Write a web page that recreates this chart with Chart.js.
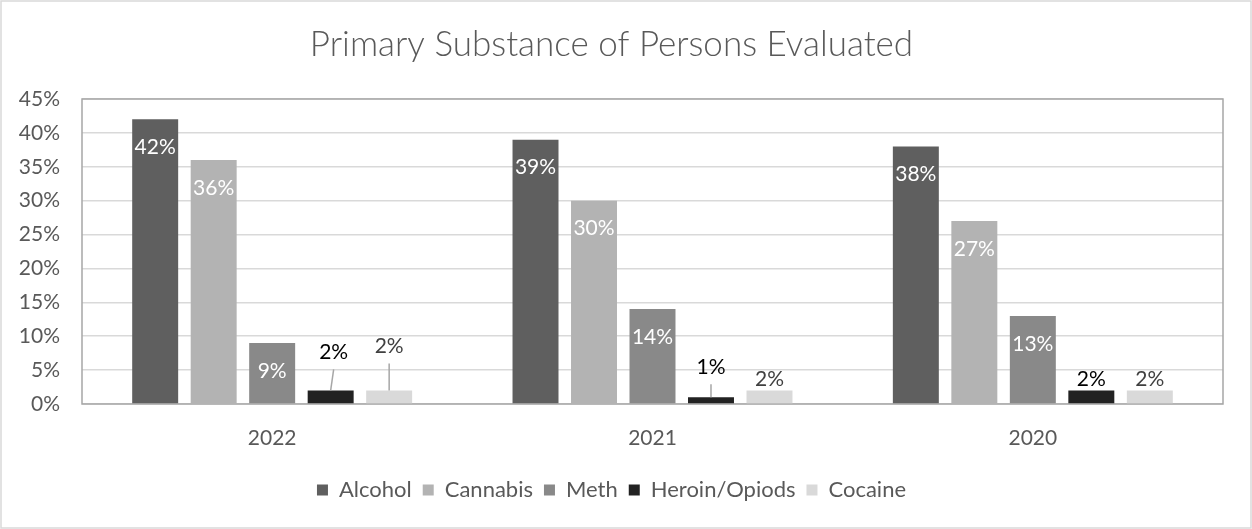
<!DOCTYPE html>
<html>
<head>
<meta charset="utf-8">
<script src="https://cdn.jsdelivr.net/npm/chart.js@4/dist/chart.umd.min.js"></script>
<style>
  html, body { margin: 0; padding: 0; background: #ffffff; }
  #wrap { width: 1252px; height: 529px; position: relative; }
</style>
</head>
<body>
<div id="wrap"><canvas id="chart" width="1252" height="529"></canvas></div>
<script>
// Years evaluated
const years = ['2022', '2021', '2020'];

// Share of persons evaluated by primary substance (percent)
const alcohol  = [42, 39, 38];
const cannabis = [36, 30, 27];
const meth     = [9, 14, 13];
const heroin   = [2, 1, 2];
const cocaine  = [2, 2, 2];

const seriesNames = ['Alcohol', 'Cannabis', 'Meth', 'Heroin/Opiods', 'Cocaine'];
const seriesColors = ['#5f5f5f', '#b3b3b3', '#898989', '#222222', '#d9d9d9'];

// Y axis ticks, percent
const yTicks = [0, 5, 10, 15, 20, 25, 30, 35, 40, 45];

const FONT = 'Lato, "Open Sans", sans-serif';
const TEXT = '#595959';

// Page background, outer frame and the frame around the plot area
const framePlugin = {
  id: 'frames',
  beforeDraw(chart) {
    const { ctx, width, height } = chart;
    ctx.save();
    ctx.fillStyle = '#ffffff';
    ctx.fillRect(0, 0, width, height);
    ctx.strokeStyle = '#d9d9d9';
    ctx.lineWidth = 1.5;
    ctx.strokeRect(1, 1, width - 2, height - 2);
    ctx.restore();
  },
  beforeDatasetsDraw(chart) {
    const { ctx, chartArea: a } = chart;
    ctx.save();
    ctx.strokeStyle = '#a6a6a6';
    ctx.lineWidth = 1.5;
    ctx.strokeRect(a.left, a.top, a.right - a.left, a.bottom - a.top);
    ctx.restore();
  }
};

// Moves the legend row vertically without changing the plot layout
const legendNudgePlugin = {
  id: 'legendNudge',
  afterLayout(chart, args, opts) {
    const lg = chart.legend;
    if (!lg) return;
    lg.top -= opts.up;
    lg.bottom -= opts.up;
  }
};

// Value labels: inside the top of tall bars, above the short ones
const barLabelPlugin = {
  id: 'barLabels',
  afterDatasetsDraw(chart, args, opts) {
    const { ctx } = chart;
    ctx.save();
    ctx.font = opts.font;
    ctx.textAlign = 'center';
    ctx.textBaseline = 'middle';
    chart.data.datasets.forEach((ds, di) => {
      const meta = chart.getDatasetMeta(di);
      if (meta.hidden) return;
      meta.data.forEach((bar, i) => {
        const text = ds.data[i] + '%';
        if (opts.inside.includes(di)) {
          ctx.fillStyle = '#ffffff';
          ctx.fillText(text, bar.x, bar.y + opts.insideDrop);
          return;
        }
        const moved = opts.moved.find(m => m.dataset === di && m.index === i);
        const lift = moved ? moved.lift : opts.outsideLift;
        const dx = moved && moved.dx ? moved.dx : 0;
        const ly = bar.y - lift;
        if (moved) {
          ctx.strokeStyle = '#a6a6a6';
          ctx.lineWidth = 1.5;
          ctx.beginPath();
          ctx.moveTo(bar.x + dx, ly + opts.leaderGap);
          ctx.lineTo(bar.x, bar.y);
          ctx.stroke();
        }
        ctx.fillStyle = opts.outsideColors[di] || TEXT;
        ctx.fillText(text, bar.x + dx, ly);
      });
    });
    ctx.restore();
  }
};

const datasets = [alcohol, cannabis, meth, heroin, cocaine].map((values, k) => ({
  label: seriesNames[k],
  data: values,
  backgroundColor: seriesColors[k],
  borderWidth: 0,
  categoryPercentage: 0.769,
  barPercentage: 0.786
}));

new Chart(document.getElementById('chart'), {
  type: 'bar',
  data: { labels: years, datasets },
  plugins: [framePlugin, legendNudgePlugin, barLabelPlugin],
  options: {
    responsive: false,
    animation: false,
    devicePixelRatio: 1,
    layout: { padding: { left: 0, right: 29, top: 0, bottom: 36 } },
    scales: {
      x: {
        grid: { display: false },
        border: { display: false },
        ticks: { color: TEXT, font: { family: FONT, size: 21 }, padding: 14 },
        afterFit(scale) { scale.height = 46; }
      },
      y: {
        min: 0,
        max: 45,
        afterBuildTicks(scale) { scale.ticks = yTicks.map(v => ({ value: v })); },
        grid: { color: '#d9d9d9', lineWidth: 1.5, drawTicks: false },
        border: { display: false },
        ticks: {
          color: TEXT,
          font: { family: FONT, size: 21 },
          padding: 22,
          callback: v => v + '%'
        },
        afterFit(scale) { scale.width = 82; }
      }
    },
    plugins: {
      title: {
        display: true,
        text: 'Primary Substance of Persons Evaluated',
        color: TEXT,
        font: { family: FONT, size: 35, weight: '300' },
        padding: { top: 24, bottom: 33 }
      },
      legend: {
        position: 'bottom',
        labels: {
          color: TEXT,
          font: { family: FONT, size: 22 },
          boxWidth: 11,
          boxHeight: 11,
          padding: 11
        }
      },
      legendNudge: { up: -18 },
      tooltip: { enabled: false },
      barLabels: {
        font: '21px ' + FONT,
        inside: [0, 1, 2],
        insideDrop: 28,
        outsideLift: 11,
        leaderGap: 17,
        outsideColors: { 3: '#000000', 4: '#404040' },
        moved: [
          { dataset: 3, index: 0, lift: 38, dx: 3 },
          { dataset: 4, index: 0, lift: 44 },
          { dataset: 3, index: 1, lift: 30 }
        ]
      }
    }
  }
});
</script>
</body>
</html>
